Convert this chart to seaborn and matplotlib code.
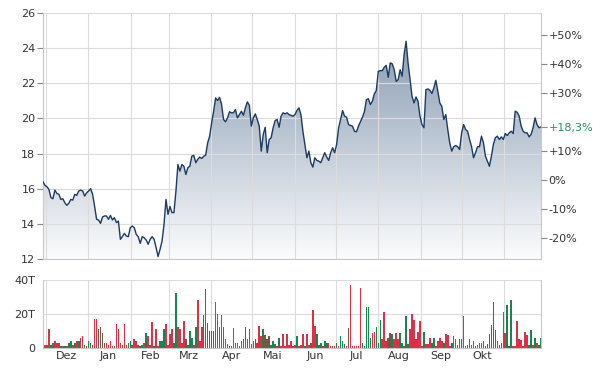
import numpy as np
import pandas as pd
import matplotlib
matplotlib.use("Agg")
import matplotlib.pyplot as plt
import matplotlib.dates as mdates
from matplotlib.colors import LinearSegmentedColormap
import seaborn as sns

# Kursdaten, ein Wert pro Handelstag
close = [
    16.40, 16.19, 16.11, 15.96, 15.49, 15.43, 15.92, 15.73, 15.68, 15.39,
    15.43, 15.20, 15.05, 15.17, 15.39, 15.35, 15.68, 15.62, 15.87, 15.92,
    15.87, 15.58, 15.77, 15.87, 16.00, 15.68, 15.01, 14.26, 14.22, 14.03,
    14.39, 14.45, 14.45, 14.26, 14.48, 14.22, 14.35, 14.07, 14.16, 13.12,
    13.27, 13.46, 13.31, 13.27, 13.78, 13.88, 13.78, 13.40, 13.27, 12.89,
    13.27, 13.21, 13.08, 12.84, 13.12, 13.27, 13.12, 12.65, 12.14, 12.55,
    13.02, 13.97, 15.39, 14.54, 14.99, 14.64, 14.64, 15.86, 17.38, 17.00,
    17.38, 17.28, 16.81, 17.19, 17.28, 17.85, 17.90, 17.48, 17.67, 17.80,
    17.72, 17.85, 17.91, 18.61, 18.99, 19.75, 20.41, 21.17, 21.02, 21.20,
    20.79, 19.94, 19.81, 20.03, 20.38, 20.32, 20.32, 20.51, 20.03, 20.22,
    20.41, 20.18, 20.60, 20.94, 20.75, 19.56, 20.03, 20.26, 19.94, 19.56,
    18.14, 19.09, 19.50, 18.05, 18.80, 18.90, 19.47, 19.88, 19.94, 19.50,
    20.13, 20.32, 20.26, 20.32, 20.22, 20.18, 20.13,
    20.22, 20.45, 20.60, 20.22, 19.27, 18.52, 17.76, 18.14, 17.48, 17.23,
    17.76, 17.61, 17.57, 17.48, 17.76, 18.05, 17.80, 17.61, 18.05, 18.33,
    18.05, 18.52, 19.47, 19.94, 20.45, 20.13, 20.07, 19.65, 19.60, 19.56,
    19.27, 19.24, 19.56, 19.81, 20.07, 20.38, 21.07, 21.12, 20.79, 20.98,
    21.40, 21.59, 22.68, 22.72, 22.72, 22.91, 23.02, 22.34, 23.16, 23.11,
    22.79, 22.11, 22.21, 22.77, 22.40, 23.63, 24.39, 23.16,
    22.21, 21.26, 20.88, 21.22, 20.98, 20.13, 19.65, 19.47, 21.64, 21.68,
    21.60, 21.42, 21.74, 22.17, 21.55, 20.88, 20.69, 19.94, 20.22, 19.37,
    18.61, 18.14, 18.39, 18.46, 18.39, 18.23, 19.18, 19.65, 19.37, 19.27,
    18.80, 18.39, 17.76, 18.05, 18.39, 18.39, 18.99, 18.61, 17.85, 17.57,
    17.28, 17.85, 18.52, 18.90, 18.99, 18.80, 18.95, 18.80, 19.14, 19.03,
    19.18, 19.27, 19.14, 20.41, 20.35, 20.13, 19.56, 19.27, 19.18, 19.18,
    18.95, 19.09, 19.47, 20.03, 19.65, 19.47, 19.52,
]

# Umsatz in Tausend Stueck
volume = [
    11.6, 2, 2, 11, 2, 3, 4, 3, 3, 1, 1, 1, 1, 3, 4, 2, 3, 4, 4, 6,
    7, 2, 1, 4, 3, 2, 17, 17, 11, 12, 9, 3, 3, 2, 4, 1, 1, 14, 11, 3,
    2, 14, 2, 3, 4, 2, 5, 4, 2, 1, 2, 3, 9, 7, 2, 15, 1, 11, 1, 4,
    4, 11, 14,
    2, 8, 11, 3, 32, 12.5, 11, 3, 15.5, 5, 2, 10, 6, 2, 12.5, 28, 4, 12, 19, 34.5,
    14.5, 10, 10, 10, 27, 20, 12.5, 19.5, 12.5, 5, 2.5, 1, 1, 11.5, 3, 3, 1, 4, 5, 12,
    5, 11, 2.5, 4, 5, 3, 13, 7, 11, 7.5, 5, 7, 2, 4, 2.5, 1, 6, 1, 8, 1,
    8, 2, 4,
    1, 2, 7, 1, 2, 8, 1, 8, 2, 3, 22, 13, 8, 2, 3, 1, 4, 3, 3, 1,
    1, 1, 3, 1, 7, 4, 2.5, 1, 11.5, 37, 1, 1, 1, 1, 35, 3, 1, 24, 24, 6,
    8.5, 9.5, 12.5, 3, 16.5, 5, 21, 4, 6, 8.5, 8, 5, 9, 5, 8.5, 3, 1, 18.5, 2.5, 11,
    20, 16.5, 5,
    9.5, 15.5, 1, 9.5, 2.5, 2.5, 6, 3, 6, 1, 4, 6, 4, 3, 8, 7.5, 1, 3, 7, 5,
    2, 5, 5, 18.5, 1, 2, 5, 2, 4, 1, 2, 3, 3, 4, 1, 2.5, 8, 13.5, 27, 10.5,
    4, 2, 3, 21, 8.5, 25, 1, 28, 1, 1, 15.5, 5, 4.5, 1, 9.5, 7.5, 2, 10.5, 2, 6,
    3, 2, 6,
]

# Farbe der Umsatzbalken: g = steigend, r = fallend, b = gemischt
volume_side = "".join([
    "rrrrggrrrg", "rgrggrgrgr", "rgrggrrrbb", "bbrrrrgrrr", "rrrggrrrrg", "grgrrrgrrg", "ggr",
    "rrrggrrrrb", "gggrgrrrgg", "ggggrrrrrr", "rgrrgrrggg", "grrrgrrrgb", "bbgggrgrrr", "rrr",
    "rrgrrrgrrb", "rrgggrggrr", "rrgrgggrbr", "rrrrrggggg", "rrgggrrrbb", "grrrggrggr", "rrr",
    "rrrgrrrggr", "rrrgrrrgrr", "rggrrrrggg", "rrrrgggggg", "rggrrgggrr", "rrrrrrggrg", "rgg",
])

start_date = "2022-11-29"
end_date = "2023-11-28"
base_price = 16.50          # Bezugskurs fuer die Prozentachse
pct_ticks = [-20, -10, 0, 10, 30, 40, 50]
month_labels = ["Dez", "Jan", "Feb", "Mrz", "Apr", "Mai", "Jun", "Jul", "Aug", "Sep", "Okt"]
label_months = pd.date_range("2022-12-01", "2023-10-01", freq="MS")
grid_months = pd.date_range("2022-12-01", "2023-11-01", freq="MS")

dates = pd.date_range(start_date, end_date, periods=len(close))
df = pd.DataFrame({"date": dates, "close": close})

side_colors = {"g": "#17864d", "r": "#dc2f48", "b": "#7a5545"}
bar_colors = [side_colors[s] for s in volume_side]

sns.set_style("white")
plt.rcParams["font.family"] = ["DejaVu Sans"]
plt.rcParams["font.size"] = 8

text_col = "#333333"
grid_col = "#dcdcdc"
spine_col = "#c8c8c8"

fig = plt.figure(figsize=(6.13, 3.73), dpi=100)
ax = fig.add_axes([43 / 613, 1 - 259 / 373, 498 / 613, 246 / 373])
axv = fig.add_axes([43 / 613, 1 - 348 / 373, 498 / 613, 68.5 / 373], sharex=ax)

# Kurslinie mit Verlaufsfuellung
xnum = mdates.date2num(dates)
poly = ax.fill_between(xnum, close, 12, facecolor="none", edgecolor="none")
grad = np.linspace(0, 1, 256).reshape(-1, 1)
cmap = LinearSegmentedColormap.from_list("fill", ["#fbfcfd", "#7d91ab"])
im = ax.imshow(grad, cmap=cmap, origin="lower", aspect="auto",
               extent=[xnum[0], xnum[-1], 12, 26], zorder=0.5)
im.set_clip_path(poly.get_paths()[0], transform=ax.transData)
sns.lineplot(data=df, x="date", y="close", ax=ax, color="#1d3a60", linewidth=1.0, zorder=3)

ax.set_xlim(xnum[0], xnum[-1])
ax.set_ylim(12, 26)
ax.set_yticks(np.arange(12, 27, 2))
ax.set_xlabel("")
ax.set_ylabel("")

for a in (ax, axv):
    a.set_axisbelow("line")
    a.set_xticks(mdates.date2num(grid_months))
    a.grid(True, color=grid_col, linewidth=0.8)
    a.tick_params(axis="x", length=0, labelbottom=False)
    a.tick_params(axis="y", direction="out", length=4, width=0.8, color="#888888",
                  labelcolor=text_col, labelsize=8, pad=1.5)
    a.spines["top"].set_visible(False)
    for s in ("left", "right", "bottom"):
        a.spines[s].set_color(spine_col)
        a.spines[s].set_linewidth(0.8)

# Prozentachse rechts
axr = ax.twinx()
axr.set_ylim(ax.get_ylim())
pct_pos = [base_price * (1 + p / 100) for p in pct_ticks]
pct_lab = ["0%" if p == 0 else f"{p:+d}%" for p in pct_ticks]
last_pct = (close[-1] / base_price - 1) * 100
pct_pos.append(close[-1])
pct_lab.append(f"{last_pct:+.1f}%".replace(".", ","))
axr.set_yticks(pct_pos)
axr.set_yticklabels(pct_lab)
axr.tick_params(axis="y", direction="out", length=4, width=0.8, color="#888888",
                labelcolor=text_col, labelsize=8, pad=1.5)
axr.get_yticklabels()[-1].set_color("#2e8b57")
for s in axr.spines.values():
    s.set_visible(False)

# Umsatz
bar_w = (xnum[-1] - xnum[0]) / len(volume) * 0.8
axv.bar(xnum, volume, width=bar_w, color=bar_colors, linewidth=0, zorder=2)
axv.set_ylim(0, 40)
axv.set_yticks([0, 20, 40])
axv.set_yticklabels(["0", "20T", "40T"])

# Monatsbeschriftung in der Monatsmitte
for m, lab in zip(label_months, month_labels):
    xm = mdates.date2num(m + pd.Timedelta(days=15))
    axv.text(xm, -0.05, lab, transform=axv.get_xaxis_transform(), ha="center", va="top",
             fontsize=8, color=text_col)

fig.savefig("out.png", dpi=100)
